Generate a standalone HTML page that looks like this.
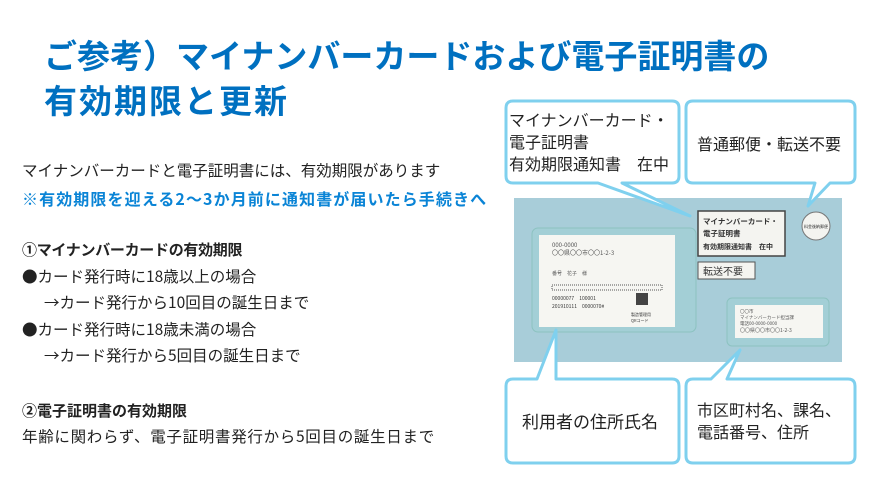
<!DOCTYPE html>
<html><head><meta charset="utf-8"><style>
body{margin:0;width:886px;height:498px;background:#fff;position:relative;overflow:hidden;font-family:"Noto Sans CJK JP","Liberation Sans",sans-serif;}
.t{position:absolute;white-space:nowrap;line-height:1;}
.title{color:#0070C0;font-weight:bold;font-size:33px;left:44px;}
.b{font-size:15.5px;color:#222;left:22px;}
</style></head><body>
<div class="t title" style="top:38px">ご参考）マイナンバーカードおよび電子証明書の</div>
<div class="t title" style="top:83px;letter-spacing:2px">有効期限と更新</div>
<div class="t b" style="top:163px">マイナンバーカードと電子証明書には、有効期限があります</div>
<div class="t b" style="top:190px;color:#0a84d6;font-weight:bold;font-size:16px;letter-spacing:1.1px">※有効期限を迎える2～3か月前に通知書が届いたら手続きへ</div>
<div class="t b" style="top:242px;font-weight:bold;font-size:15px;letter-spacing:-0.3px">①マイナンバーカードの有効期限</div>
<div class="t b" style="top:269px">●カード発行時に18歳以上の場合</div>
<div class="t b" style="top:295px;left:44px">→カード発行から10回目の誕生日まで</div>
<div class="t b" style="top:322px">●カード発行時に18歳未満の場合</div>
<div class="t b" style="top:348px;left:44px">→カード発行から5回目の誕生日まで</div>
<div class="t b" style="top:403px;font-weight:bold;font-size:15px">②電子証明書の有効期限</div>
<div class="t b" style="top:429px;letter-spacing:0.7px">年齢に関わらず、電子証明書発行から5回目の誕生日まで</div>

<svg width="886" height="498" style="position:absolute;left:0;top:0" font-family="Noto Sans CJK JP, Liberation Sans, sans-serif">
<rect x="514" y="198" width="328" height="164" fill="#a8cdd9"/>
<rect x="532" y="228" width="164" height="104" rx="6" fill="#a3cfd6" stroke="#8cc2c0"/>
<rect x="539" y="235" width="136" height="92" fill="#f6f6f2"/>
<text x="552" y="247" font-size="6" fill="#555">000-0000</text>
<text x="552" y="255" font-size="6" fill="#555">〇〇県〇〇市〇〇1-2-3</text>
<text x="552" y="275" font-size="5" fill="#555">番号　花子　様</text>
<rect x="552" y="285" width="110" height="5" fill="none" stroke="#555" stroke-dasharray="1 1"/>
<text x="552" y="300" font-size="5" fill="#333">00000077　100001</text>
<text x="552" y="308" font-size="5" fill="#333">201910111　0000070#</text>
<rect x="636" y="293" width="12" height="12" fill="#444"/>
<text x="631" y="316" font-size="4" fill="#333">製造管理用</text>
<text x="631" y="322" font-size="4" fill="#333">QRコード</text>
<rect x="727" y="298" width="102" height="48" rx="5" fill="#a3cfd6" stroke="#8cc2c0"/>
<rect x="735" y="305" width="88" height="33" fill="#f6f6f2"/>
<text x="740" y="313" font-size="4.5" fill="#555">〇〇市</text>
<text x="740" y="319" font-size="4.5" fill="#555">マイナンバーカード担当課</text>
<text x="740" y="325" font-size="4.5" fill="#555">電話00-0000-0000</text>
<text x="740" y="332" font-size="5" fill="#555">〇〇県〇〇市〇〇1-2-3</text>
<rect x="698" y="211" width="87" height="45" fill="#f4f4f0" stroke="#444" stroke-width="1.5"/>
<text x="703" y="224" font-size="7.5" font-weight="bold" fill="#333">マイナンバーカード・</text>
<text x="703" y="236" font-size="7.5" font-weight="bold" fill="#333">電子証明書</text>
<text x="703" y="249" font-size="7" font-weight="bold" fill="#333">有効期限通知書　在中</text>
<rect x="698" y="262" width="57" height="17" fill="#f4f4f0" stroke="#555"/>
<text x="703" y="275" font-size="10" fill="#333">転送不要</text>
<circle cx="816" cy="226" r="14" fill="#f4f4f0" stroke="#777"/>
<text x="816" y="228" font-size="4" text-anchor="middle" fill="#333">料金後納郵便</text>
<g fill="#fff" stroke="#7fd0ee" stroke-width="3" stroke-linejoin="round">
<path d="M513,101 H672 Q679,101 679,108 V176 Q679,183 672,183 H622 L690,216 L598,183 H513 Q506,183 506,176 V108 Q506,101 513,101 Z"/>
<path d="M693,101 H848 Q855,101 855,108 V176 Q855,183 848,183 H830 L808,206 L815,183 H693 Q686,183 686,176 V108 Q686,101 693,101 Z"/>
<path d="M513,379 H537 L556,330 L556,379 H672 Q679,379 679,386 V456 Q679,463 672,463 H513 Q506,463 506,456 V386 Q506,379 513,379 Z"/>
<path d="M693,379 H711 L740,350 L727,379 H848 Q855,379 855,386 V456 Q855,463 848,463 H693 Q686,463 686,456 V386 Q686,379 693,379 Z"/>
</g>
<g font-size="16" fill="#222">
<text x="509" y="126">マイナンバーカード・</text>
<text x="509" y="148">電子証明書</text>
<text x="509" y="170">有効期限通知書　在中</text>
<text x="697" y="150">普通郵便・転送不要</text>
<text x="522" y="428" font-size="17">利用者の住所氏名</text>
<text x="697" y="416">市区町村名、課名、</text>
<text x="697" y="438">電話番号、住所</text>
</g>
</svg>
</body></html>
